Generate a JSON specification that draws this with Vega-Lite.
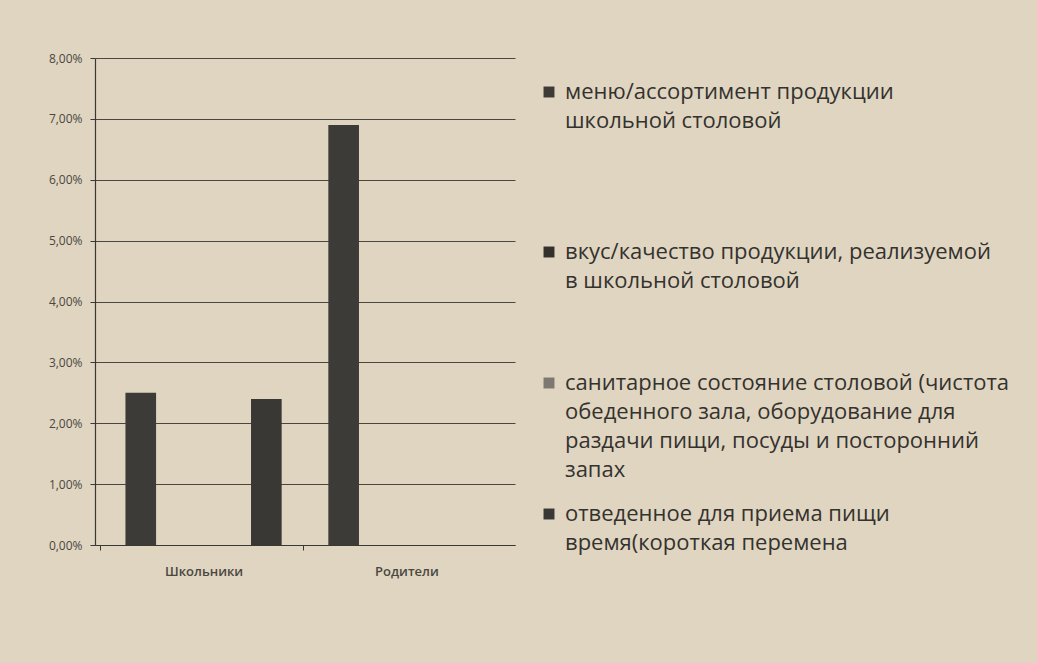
{
  "$schema": "https://vega.github.io/schema/vega-lite/v6.json",
  "autosize": {"type": "none"},
  "width": 420,
  "height": 487,
  "padding": {"left": 95, "top": 58, "right": 522, "bottom": 118},
  "background": "#e0d5c1",
  "config": {
    "view": {"stroke": null},
    "font": "Open Sans"
  },
  "data": {
    "values": [
      {"group": "Школьники", "series": "меню/ассортимент продукции школьной столовой", "value": 0.025},
      {"group": "Школьники", "series": "вкус/качество продукции, реализуемой в школьной столовой", "value": 0},
      {"group": "Школьники", "series": "санитарное состояние столовой (чистота обеденного зала, оборудование для раздачи пищи, посуды и посторонний запах", "value": 0},
      {"group": "Школьники", "series": "отведенное для приема пищи время(короткая перемена", "value": 0.024},
      {"group": "Родители", "series": "меню/ассортимент продукции школьной столовой", "value": 0.069},
      {"group": "Родители", "series": "вкус/качество продукции, реализуемой в школьной столовой", "value": 0},
      {"group": "Родители", "series": "санитарное состояние столовой (чистота обеденного зала, оборудование для раздачи пищи, посуды и посторонний запах", "value": 0},
      {"group": "Родители", "series": "отведенное для приема пищи время(короткая перемена", "value": 0}
    ]
  },
  "mark": {"type": "bar"},
  "encoding": {
    "x": {
      "field": "group",
      "type": "nominal",
      "sort": ["Школьники", "Родители"],
      "scale": {"paddingInner": 0.23, "paddingOuter": 0.15},
      "axis": {
        "title": null,
        "labelAngle": 0,
        "labelFont": "Open Sans",
        "labelFontSize": 13,
        "labelFontWeight": 600,
        "labelColor": "#4a4740",
        "labelPadding": 15,
        "domainColor": "#3a3833",
        "domainWidth": 1.2,
        "tickColor": "#3a3833",
        "bandPosition": 0,
        "tickOffset": -25,
        "labelOffset": 25,
        "tickSize": 5,
        "grid": false
      }
    },
    "xOffset": {
      "field": "series",
      "type": "nominal",
      "sort": [
        "меню/ассортимент продукции школьной столовой",
        "вкус/качество продукции, реализуемой в школьной столовой",
        "санитарное состояние столовой (чистота обеденного зала, оборудование для раздачи пищи, посуды и посторонний запах",
        "отведенное для приема пищи время(короткая перемена"
      ],
      "scale": {"paddingInner": 0.268, "paddingOuter": 0}
    },
    "y": {
      "field": "value",
      "type": "quantitative",
      "scale": {"domain": [0, 0.08]},
      "axis": {
        "title": null,
        "values": [0, 0.01, 0.02, 0.03, 0.04, 0.05, 0.06, 0.07, 0.08],
        "labelExpr": "replace(format(datum.value, '.2%'), '.', ',')",
        "labelFont": "Open Sans",
        "labelFontSize": 12,
        "labelColor": "#4a4740",
        "labelPadding": 8,
        "domainColor": "#3a3833",
        "domainWidth": 1.2,
        "tickColor": "#3a3833",
        "tickSize": 5,
        "gridColor": "#4a4740",
        "gridWidth": 1.2,
        "gridOpacity": 1
      }
    },
    "color": {
      "field": "series",
      "type": "nominal",
      "sort": [
        "меню/ассортимент продукции школьной столовой",
        "вкус/качество продукции, реализуемой в школьной столовой",
        "санитарное состояние столовой (чистота обеденного зала, оборудование для раздачи пищи, посуды и посторонний запах",
        "отведенное для приема пищи время(короткая перемена"
      ],
      "scale": {"range": ["#3d3b37", "#33312e", "#7d7870", "#3a3834"]},
      "legend": {
        "title": null,
        "orient": "none",
        "legendX": 443,
        "legendY": 23,
        "symbolType": "square",
        "symbolSize": 120,
        "symbolStrokeWidth": 0,
        "labelFont": "Open Sans",
        "labelFontSize": 22,
        "labelColor": "#34322e",
        "labelLimit": 600,
        "labelOffset": 5,
        "rowPadding": 22,
        "labelExpr": "datum.label == 'меню/ассортимент продукции школьной столовой' ? ['меню/ассортимент продукции', 'школьной столовой', '', '', ''] : datum.label == 'вкус/качество продукции, реализуемой в школьной столовой' ? ['вкус/качество продукции, реализуемой', 'в школьной столовой', '', ''] : datum.label == 'отведенное для приема пищи время(короткая перемена' ? ['отведенное для приема пищи', 'время(короткая перемена'] : ['санитарное состояние столовой (чистота', 'обеденного зала, оборудование для', 'раздачи пищи, посуды и посторонний', 'запах']",
        "encode": {
          "labels": {"update": {"lineHeight": {"value": 29}}}
        }
      }
    }
  }
}
